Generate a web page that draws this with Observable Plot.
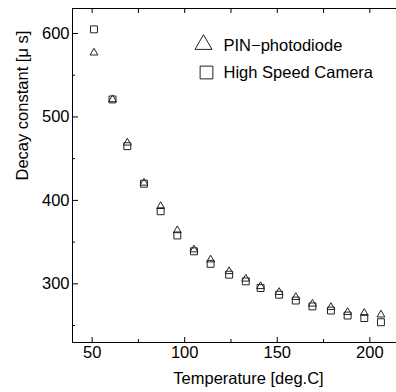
<!DOCTYPE html>
<html><head><meta charset="utf-8">
<script src="https://cdn.jsdelivr.net/npm/d3@7"></script>
<script src="https://cdn.jsdelivr.net/npm/@observablehq/plot@0.6"></script>
<style>body{margin:0;background:#fff;font-family:"Liberation Sans",Arial,sans-serif}</style>
</head><body><div id="chart"></div>
<script>
const temperature = [51, 61, 69, 78, 87, 96, 105, 114, 124, 133, 141, 151, 160, 169, 179, 188, 197, 206];
const pinPhotodiode = [577, 521, 469, 421, 393, 364, 341, 329, 315, 306, 297, 290, 284, 276, 272, 266, 265, 263];
const highSpeedCamera = [605, 521, 465, 420, 387, 358, 339, 324, 311, 303, 295, 287, 280, 273, 268, 262, 259, 254];
const xMajor = [50, 100, 150, 200];
const xMinor = [75, 125, 175];
const yMajor = [300, 400, 500, 600];
const yMinor = [250, 350, 450, 550];
const seriesNames = ["PIN\u2212photodiode", "High Speed Camera"];

const pin = temperature.map((t, i) => ({t, v: pinPhotodiode[i]}));
const cam = temperature.map((t, i) => ({t, v: highSpeedCamera[i]}));

const fs = 16.5;
const chart = Plot.plot({
  width: 396, height: 392,
  marginLeft: 72, marginTop: 8, marginRight: 0, marginBottom: 50,
  style: {fontFamily: "'Liberation Sans', Arial, sans-serif", fontSize: fs + "px", color: "#000", background: "#fff"},
  x: {domain: [39.4, 214.4]},
  y: {domain: [229.7, 630]},
  marks: [
    Plot.frame({anchor: "left", stroke: "#000"}),
    Plot.frame({anchor: "bottom", stroke: "#000"}),
    Plot.frame({anchor: "top", stroke: "#000"}),
    Plot.axisX(xMajor, {anchor: "bottom", tickSize: -5, tickPadding: 9, fontSize: fs, label: null}),
    Plot.axisX(xMinor, {anchor: "bottom", tickSize: -3, text: null, label: null}),
    Plot.axisX(xMajor.concat(xMinor), {anchor: "top", tickSize: -4, text: null, label: null}),
    Plot.axisY(yMajor, {anchor: "left", tickSize: -6, tickPadding: 9, fontSize: fs, label: null}),
    Plot.axisY(yMinor, {anchor: "left", tickSize: -3, text: null, label: null}),
    Plot.text(["Temperature [deg.C]"], {frameAnchor: "bottom", lineAnchor: "middle", dx: 14, dy: 36, fontSize: fs}),
    Plot.text(["Decay constant [\u03bc s]"], {frameAnchor: "left", lineAnchor: "middle", dx: -50, dy: 5, rotate: -90, fontSize: fs}),
    Plot.dot(pin, {x: "t", y: "v", symbol: "triangle", r: 2.9, stroke: "#222", strokeWidth: 1, fill: "none"}),
    Plot.dot(cam, {x: "t", y: "v", symbol: "square", r: 3.9, stroke: "#222", strokeWidth: 1, fill: "none"}),
    Plot.dot([seriesNames[0]], {frameAnchor: "top-left", dx: 131, dy: 36, symbol: "triangle", r: 6.3, stroke: "#222", strokeWidth: 1, fill: "none"}),
    Plot.dot([seriesNames[1]], {frameAnchor: "top-left", dx: 134, dy: 64, symbol: "square", r: 7.2, stroke: "#222", strokeWidth: 1, fill: "none"}),
    Plot.text([seriesNames[0]], {frameAnchor: "top-left", lineAnchor: "middle", dx: 151, dy: 37, textAnchor: "start", fontSize: fs}),
    Plot.text([seriesNames[1]], {frameAnchor: "top-left", lineAnchor: "middle", dx: 151, dy: 64, textAnchor: "start", fontSize: fs})
  ]
});
document.getElementById("chart").appendChild(chart);
</script></body></html>
